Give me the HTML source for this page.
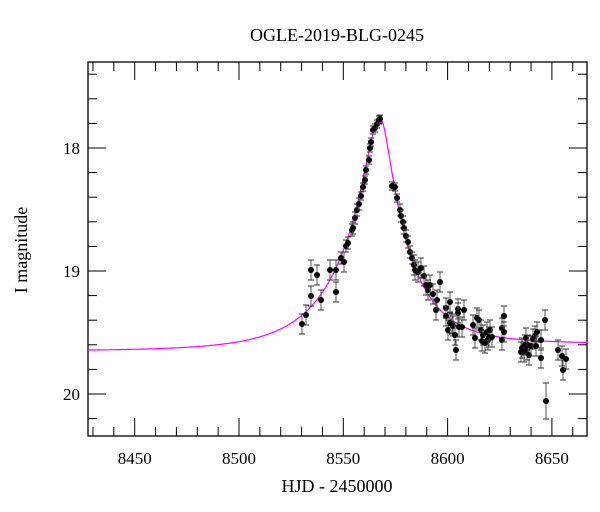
<!DOCTYPE html>
<html><head><style>body{margin:0;background:#fff}svg{display:block}text{font-family:"Liberation Serif",serif;fill:#000}</style></head>
<body>
<svg id="s" width="600" height="512" xmlns="http://www.w3.org/2000/svg">
<text x="337" y="41" font-size="18" text-anchor="middle">OGLE-2019-BLG-0245</text>
<text x="337" y="492" font-size="18" text-anchor="middle">HJD - 2450000</text>
<text transform="translate(27,250) rotate(-90)" font-size="18" text-anchor="middle">I magnitude</text>
<g font-size="17" text-anchor="middle">
<text x="134.7" y="464">8450</text><text x="239" y="464">8500</text><text x="343.3" y="464">8550</text><text x="447.6" y="464">8600</text><text x="551.9" y="464">8650</text>
</g>
<g font-size="17" text-anchor="end">
<text x="80" y="154">18</text><text x="80" y="277">19</text><text x="80" y="400">20</text>
</g>
<g id="ax" stroke="#000" fill="none"></g>
<g id="dat"></g>
</svg>
<script>
const L=88,R=587,T=62,B=436;
const tx=t=>134.7+(t-8450)*2.086, my=m=>148+(m-18)*123;
let ax=document.getElementById('ax'),h='';
h+=`<rect x="${L}" y="${T}" width="${R-L}" height="${B-T}" stroke-width="1.3"/>`;
for(let t=8430;t<=8660;t+=10){let x=tx(t),len=(t%50==0)?18:9;h+=`<line x1="${x}" y1="${B}" x2="${x}" y2="${B-len}"/><line x1="${x}" y1="${T}" x2="${x}" y2="${T+len}"/>`;}
for(let m=17.4;m<=20.31;m+=0.2){let mm=Math.round(m*10)/10,y=my(mm),len=(Math.abs(mm-Math.round(mm))<0.01)?18:9;h+=`<line x1="${L}" y1="${y}" x2="${L+len}" y2="${y}"/><line x1="${R}" y1="${y}" x2="${R-len}" y2="${y}"/>`;}
ax.innerHTML=h;
let p='';
for(let t=8427.7;t<=8667;t+=0.25){let u0=0.177,t0=8567.5;let right=t>t0;let tE=right?28:36;let u=Math.sqrt(u0*u0+((t-t0)/tE)**2);let A=(u*u+2)/(u*Math.sqrt(u*u+4));let base=19.65-(right?0.06*(1-Math.exp(-(t-t0)/25)):0);let m=base-2.5*Math.log10(A);p+=(p?'L':'M')+tx(t).toFixed(1)+','+my(m).toFixed(1);}
let d=`<path d="${p}" stroke="#f0f" stroke-width="1.2" fill="none"/>`;
const pts=[[302,324],[306,315],[311,296],[311,270],[317,275],[321,300],[336,292],[336,270],[330,270],[341,258],[344,262],[346,246],[348,243],[352,230],[353,228],[355,218],[357,210],[359,204],[361,196],[363,187],[365,180],[366,170],[369,160],[370,148],[371,142],[373,130],[375,128],[377,124],[379,120],[380,119],
[392,186],[395,187],[397,198],[400,210],[401,216],[403,222],[404,228],[406,236],[408,242],[410,252],[412,258],[414,265],[415,270],[418,272],[421,268],[424,276],[426,285],[428,290],[430,285],[433,294],[436,310],[437,300],[440,282],
[446,308],[446,316],[448,330],[450,323],[450,302],[452,324],[453,326],[455,335],[456,350],[458,309],[458,313],[459,327],[462,327],[464,310],[473,325],[475,338],[477,318],[479,320],[481,330],[482,341],[483,335],[485,343],[487,332],[488,340],[489,337],[490,330],[492,337],[502,328],[502,340],[504,316],[504,332],[521,352],[522,348],[524,352],[525,345],[526,338],[527,350],[528,345],[529,355],[531,346],[533,339],[535,336],[536,346],[537,332],[541,358],[541,340],[545,320],[546,401],[558,350],[562,356],[563,370],[566,359]];
for(const [x,y] of pts){let e=y<200?4:(y<260?6:(y>390?18:10));d+=`<line x1="${x}" y1="${y-e}" x2="${x}" y2="${y+e}" stroke="#555" stroke-width="1"/><line x1="${x-3}" y1="${y-e}" x2="${x+3}" y2="${y-e}" stroke="#333"/><line x1="${x-3}" y1="${y+e}" x2="${x+3}" y2="${y+e}" stroke="#333"/><circle cx="${x}" cy="${y}" r="3" fill="#000"/>`;}
document.getElementById('dat').innerHTML=d;
</script>
</body></html>
